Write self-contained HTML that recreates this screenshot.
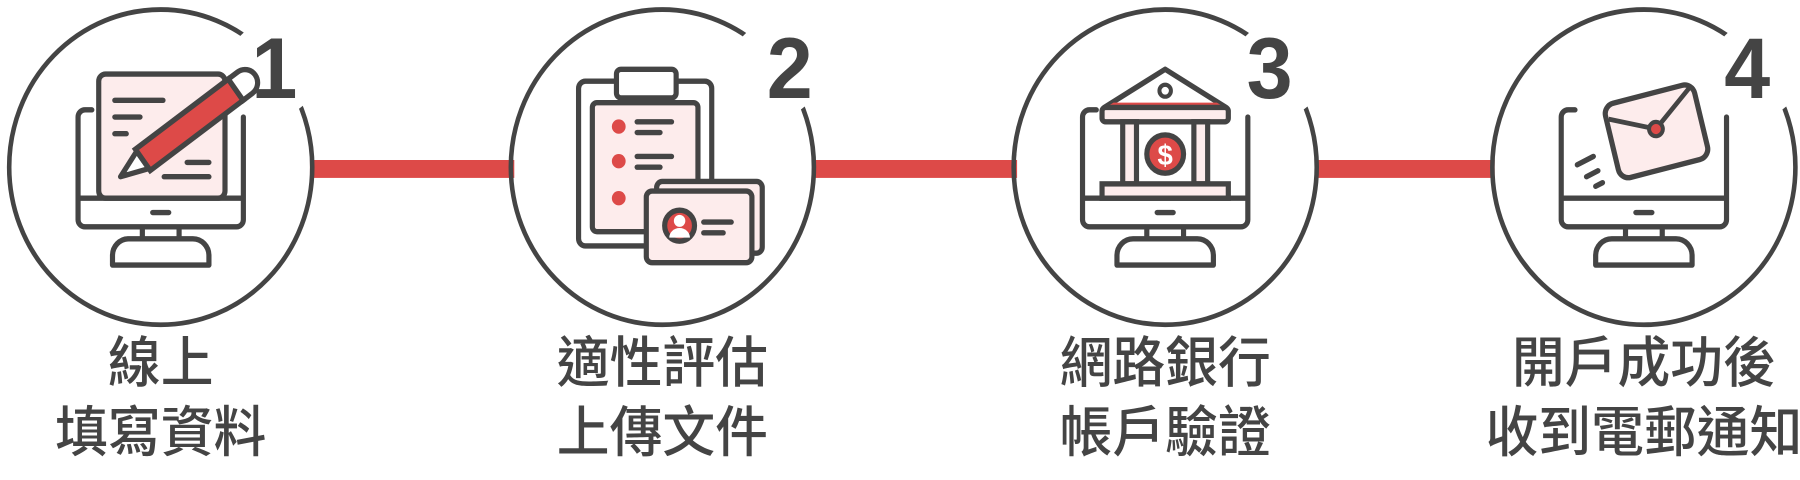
<!DOCTYPE html>
<html><head><meta charset="utf-8"><style>
html,body{margin:0;padding:0;background:#fff;}
svg{display:block;}
text{font-family:"Liberation Sans","Noto Sans CJK TC",sans-serif;fill:#444;}
</style></head><body>
<svg width="1800" height="480" viewBox="0 0 1568 402" preserveAspectRatio="none" xmlns="http://www.w3.org/2000/svg">
<defs>
<g id="mon">
  <path d="M-60,92 h-6 a6,6 0 0 0 -6,6 v86 a6,6 0 0 0 6,6 h132 a6,6 0 0 0 6,-6 v-86" fill="none" stroke="#444" stroke-width="4.5" stroke-linecap="round"/>
  <line x1="-72" y1="166" x2="72" y2="166" stroke="#444" stroke-width="4.5"/>
  <line x1="-7" y1="178" x2="7" y2="178" stroke="#444" stroke-width="4.5" stroke-linecap="round"/>
  <path d="M-16,190 v10 M16,190 v10" stroke="#444" stroke-width="4.5"/>
  <path d="M-42,222 v-8 a14,14 0 0 1 14,-14 h56 a14,14 0 0 1 14,14 v8 z" fill="none" stroke="#444" stroke-width="4.5" stroke-linejoin="round"/>
</g>
</defs>
<rect x="270" y="134" width="178" height="15" fill="#dd4a48"/>
<rect x="708" y="134" width="178" height="15" fill="#dd4a48"/>
<rect x="1146" y="134" width="156" height="15" fill="#dd4a48"/>
<g fill="none" stroke="#444" stroke-width="4">
<circle cx="140" cy="140" r="132"/>
<circle cx="577" cy="140" r="132"/>
<circle cx="1015" cy="140" r="132"/>
<circle cx="1432" cy="140" r="132"/>
</g>
<g fill="#fff">
<circle cx="238" cy="58" r="40"/>
<circle cx="676" cy="58" r="40"/>
<circle cx="1114" cy="58" r="40"/>
<circle cx="1531" cy="58" r="40"/>
</g>
<g font-size="72" font-weight="bold" text-anchor="middle" font-family="Liberation Sans">
<text x="239" y="82">1</text>
<text x="688" y="82">2</text>
<text x="1106" y="82">3</text>
<text x="1522" y="82">4</text>
</g>
<!-- icon 1 -->
<use href="#mon" x="140"/>
<rect x="86" y="62" width="110" height="104" rx="6" fill="#fdecec" stroke="#444" stroke-width="4.5"/>
<g stroke="#444" stroke-width="4.5" stroke-linecap="round">
<line x1="100" y1="84" x2="142" y2="84"/><line x1="100" y1="98" x2="122" y2="98"/><line x1="100" y1="112" x2="110" y2="112"/>
<line x1="163" y1="136" x2="182" y2="136"/><line x1="143" y1="148" x2="182" y2="148"/>
</g>
<g transform="translate(105,148) rotate(-36)">
<path d="M0,0 L24,-9 L24,9 Z" fill="#fff" stroke="#444" stroke-width="4.5" stroke-linejoin="round"/>
<rect x="24" y="-11" width="100" height="22" fill="#dd4a48" stroke="#444" stroke-width="4.5"/>
<path d="M124,-11 h10 a11,11 0 0 1 0,22 h-10 z" fill="#fff" stroke="#444" stroke-width="4.5"/>
</g>
<!-- icon 2 -->
<rect x="504" y="68" width="116" height="138" rx="6" fill="#fff" stroke="#444" stroke-width="4.5"/>
<rect x="516" y="86" width="92" height="108" rx="4" fill="#fdecec" stroke="#444" stroke-width="4.5"/>
<rect x="537" y="58" width="52" height="24" rx="4" fill="#fff" stroke="#444" stroke-width="4.5"/>
<g fill="#dd4a48"><circle cx="539" cy="106" r="6"/><circle cx="539" cy="135" r="6"/><circle cx="539" cy="166" r="6"/></g>
<g stroke="#444" stroke-width="4.5" stroke-linecap="round">
<line x1="555" y1="102" x2="585" y2="102"/><line x1="555" y1="111" x2="575" y2="111"/>
<line x1="555" y1="131" x2="585" y2="131"/><line x1="555" y1="140" x2="575" y2="140"/>
</g>
<rect x="572" y="152" width="92" height="60" rx="5" fill="#fdecec" stroke="#444" stroke-width="4.5"/>
<rect x="563" y="160" width="92" height="60" rx="5" fill="#fdecec" stroke="#444" stroke-width="4.5"/>
<circle cx="592" cy="189" r="13" fill="#dd4a48" stroke="#444" stroke-width="4.5"/>
<circle cx="592" cy="185" r="5" fill="#fff"/><path d="M583,199 a9,8 0 0 1 18,0 z" fill="#fff"/>
<g stroke="#444" stroke-width="4.5" stroke-linecap="round"><line x1="613" y1="186" x2="637" y2="186"/><line x1="613" y1="195" x2="630" y2="195"/></g>
<!-- icon 3 -->
<use href="#mon" x="1015"/>
<path d="M962,90 L1015,58 L1068,90 Z" fill="#fff" stroke="#444" stroke-width="4.5" stroke-linejoin="round"/>
<path d="M970,86 h90 l7,4 h-104 z" fill="#dd4a48"/>
<circle cx="1015" cy="76" r="5" fill="#fff" stroke="#444" stroke-width="3.5"/>
<rect x="960" y="90" width="110" height="12" rx="3" fill="#fdecec" stroke="#444" stroke-width="4.5"/>
<rect x="978" y="102" width="12" height="52" fill="#fdecec" stroke="#444" stroke-width="4.5"/>
<rect x="1040" y="102" width="12" height="52" fill="#fdecec" stroke="#444" stroke-width="4.5"/>
<rect x="960" y="154" width="110" height="12" fill="#fdecec" stroke="#444" stroke-width="4.5"/>
<circle cx="1015" cy="129" r="16" fill="#dd4a48" stroke="#444" stroke-width="4.5"/>
<text x="1015" y="138" font-size="24" font-weight="bold" text-anchor="middle" style="fill:#fff">$</text>
<!-- icon 4 -->
<use href="#mon" x="1432"/>
<g transform="translate(1443,110) rotate(-14)">
<rect x="-40" y="-32" width="80" height="64" rx="9" fill="#fdecec" stroke="#444" stroke-width="4.5"/>
<path d="M-38,-20 L0,-2 L36,-28" fill="none" stroke="#444" stroke-width="4"/>
<circle cx="0" cy="-2" r="6" fill="#dd4a48" stroke="#444" stroke-width="3.5"/>
</g>
<g stroke="#444" stroke-width="4.5" stroke-linecap="round">
<line x1="1374" y1="138" x2="1388" y2="131"/><line x1="1382" y1="148" x2="1392" y2="143"/><line x1="1390" y1="156" x2="1396" y2="153"/>
</g>
<g font-size="46" font-weight="500" text-anchor="middle">
<text x="140" y="320">線上</text>
<text x="140" y="378">填寫資料</text>
<text x="577" y="320">適性評估</text>
<text x="577" y="378">上傳文件</text>
<text x="1015" y="320">網路銀行</text>
<text x="1015" y="378">帳戶驗證</text>
<text x="1432" y="320">開戶成功後</text>
<text x="1432" y="378">收到電郵通知</text>
</g>
</svg>
</body></html>
